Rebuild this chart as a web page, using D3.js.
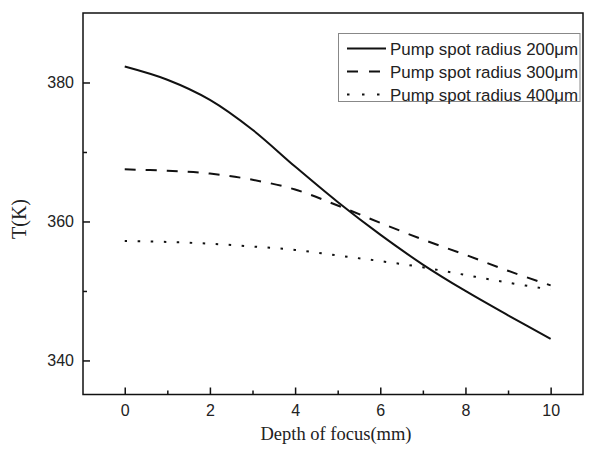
<!DOCTYPE html>
<html><head><meta charset="utf-8">
<script src="https://cdn.jsdelivr.net/npm/d3@7"></script>
<style>body{margin:0;background:#fff}svg{display:block}</style>
</head><body>
<svg id="chart" width="592" height="451"></svg>
<script>
const depth = [0,1,2,3,4,5,6,7,8,9,10];
const r200 = [382.3,380.4,377.5,373.2,367.9,362.8,358.1,353.8,350.0,346.5,343.1];
const r300 = [367.5,367.3,366.9,366.0,364.6,362.3,359.8,357.4,355.2,352.9,350.8];
const r400 = [357.2,357.05,356.8,356.4,355.9,355.1,354.3,353.4,352.3,351.2,350.2];
const seriesNames = ["Pump spot radius 200\u03BCm","Pump spot radius 300\u03BCm","Pump spot radius 400\u03BCm"];
const xMajor = [0,2,4,6,8,10];
const xMinor = [1,3,5,7,9];
const yMajor = [340,360,380];
const yMinor = [350,370];

const L=83,R=583,T=13,B=394.5;
const svg=d3.select("#chart");
const x=d3.scaleLinear().domain([-0.98,10.76]).range([L,R]);
const y=d3.scaleLinear().domain([335.1,390]).range([B,T]);
const sans="'Liberation Sans', Arial, sans-serif";
const serif="'Liberation Serif', 'Times New Roman', serif";

const series=[
  {name:seriesNames[0],vals:r200,dash:null},
  {name:seriesNames[1],vals:r300,dash:"11,10"},
  {name:seriesNames[2],vals:r400,dash:"2.5,10.5"}
];
const line=d3.line().x(d=>x(d[0])).y(d=>y(d[1])).curve(d3.curveCatmullRom.alpha(0.5));
series.forEach(s=>{
  svg.append("path").datum(depth.map((d,i)=>[d,s.vals[i]]))
    .attr("d",line).attr("fill","none").attr("stroke","#111")
    .attr("stroke-width",2).attr("stroke-dasharray",s.dash);
});

// frame
svg.append("rect").attr("x",L).attr("y",T).attr("width",R-L).attr("height",B-T)
  .attr("fill","none").attr("stroke","#111").attr("stroke-width",1.5);

// x axis
const gx=svg.append("g").attr("transform",`translate(0,${B})`);
gx.call(d3.axisBottom(x).tickValues(xMajor).tickSize(-7).tickPadding(10).tickFormat(d3.format("d")));
gx.append("g").call(d3.axisBottom(x).tickValues(xMinor).tickSize(-4).tickFormat(""));
// y axis
const gy=svg.append("g").attr("transform",`translate(${L},0)`);
gy.call(d3.axisLeft(y).tickValues(yMajor).tickSize(-7).tickPadding(9).tickFormat(d3.format("d")));
gy.append("g").call(d3.axisLeft(y).tickValues(yMinor).tickSize(-4).tickFormat(""));
svg.selectAll(".domain").remove();
svg.selectAll(".tick line").attr("stroke","#111").attr("stroke-width",1.5);
svg.selectAll(".tick text").attr("font-family",sans).attr("font-size",16).attr("fill","#222");

svg.append("text").attr("x",(L+R)/2+3).attr("y",440).attr("text-anchor","middle")
  .attr("font-family",serif).attr("font-size",18.5).attr("fill","#222").text("Depth of focus(mm)");
svg.append("text").attr("transform","translate(26,219) rotate(-90)").attr("text-anchor","middle")
  .attr("font-family",serif).attr("font-size",20).attr("fill","#222").text("T(K)");

// legend
const lg=svg.append("g");
lg.append("rect").attr("x",338.5).attr("y",33.5).attr("width",241.5).attr("height",68)
  .attr("fill","#fff").attr("stroke","#888").attr("stroke-width",1);
series.forEach((s,i)=>{
  const yy=48.5+i*23;
  lg.append("line").attr("x1",347).attr("x2",386).attr("y1",yy).attr("y2",yy)
    .attr("stroke","#111").attr("stroke-width",2.2)
    .attr("stroke-dasharray",i==0?null:(i==1?"11,11":"2.5,12.5"));
  lg.append("text").attr("x",390).attr("y",yy+6).attr("font-family",sans)
    .attr("font-size",16.9).attr("fill","#222").text(s.name);
});
</script>
</body></html>
